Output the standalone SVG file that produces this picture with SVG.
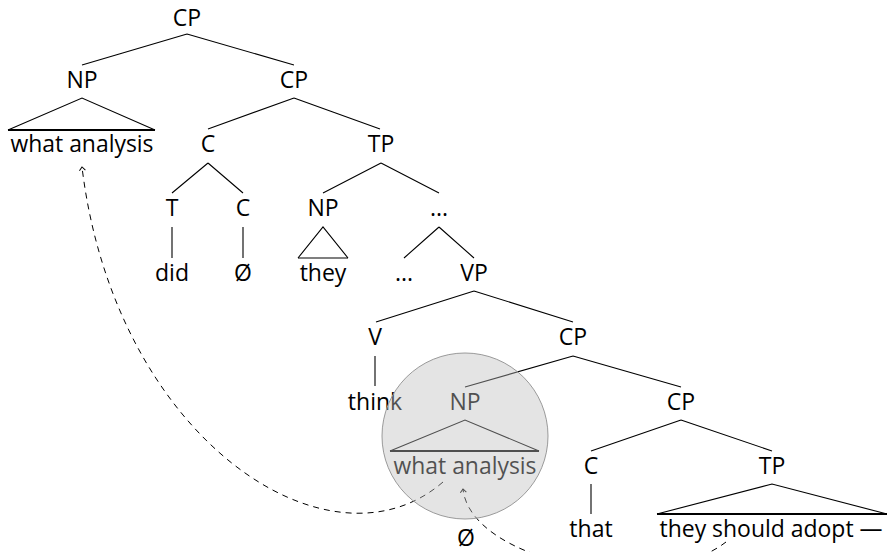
<svg xmlns="http://www.w3.org/2000/svg" width="889" height="552" viewBox="0 0 889 552">
<style>
text{font-family:"Open Sans","Liberation Sans",sans-serif;font-size:23px;fill:#000;text-anchor:middle}
.e{stroke:#000;stroke-width:1.1;fill:none}
.b{stroke:#000;stroke-width:1.8;fill:none}
.d{stroke:#000;stroke-width:1;fill:none;stroke-dasharray:6 5}
</style>
<defs>
<marker id="caret" markerWidth="10" markerHeight="10" refX="0" refY="0" viewBox="-5 -5 10 10" orient="auto" markerUnits="userSpaceOnUse">
<path d="M-3.5 -3 L0 0 L-3.5 3" fill="none" stroke="#000" stroke-width="1"/>
</marker>
</defs>
<rect width="889" height="552" fill="#fff"/>
<g id="connectors">
<path class="e" d="M187 34L82 65M187 34L294 65"/>
<path class="e" d="M8 130L82 98L155 130"/><path class="b" d="M8 130H155"/>
<path class="e" d="M294 98L208 129M294 98L380 129"/>
<path class="e" d="M208 163L172 193M208 163L243 193"/>
<path class="e" d="M381 163L323 193M381 163L439 193"/>
<path class="e" d="M172 227V258M243 227V258"/>
<path class="e" d="M298 258L323 227L348 258"/><path class="e" d="M298 258H348"/>
<path class="e" d="M439 227L404 258M439 227L474 258"/>
<path class="e" d="M474 291L376 322M474 291L573 322"/>
<path class="e" d="M375 356V386"/>
<path class="e" d="M573 356L465 387M573 356L681 387"/>
<path class="e" d="M390 451L465 420L539 451"/><path class="b" d="M390 451H539"/>
<path class="e" d="M681 420L591 451M681 420L772 451"/>
<path class="e" d="M591 484V514"/>
<path class="e" d="M657 514L772 484L887 514"/><path class="b" d="M657 514H887"/>
<path class="d" d="M443 482C330 580 115 440 82 167" marker-end="url(#caret)"/>
<path class="d" d="M726 542C650 600 470 560 463 489" marker-end="url(#caret)"/>
</g>
<g id="n_cp0"><text x="187" y="26">CP</text></g>
<g id="n_np1"><text x="82" y="88">NP</text></g>
<g id="n_wa1"><text x="82" y="152" textLength="143" lengthAdjust="spacingAndGlyphs">what analysis</text></g>
<g id="n_cp1"><text x="294" y="88">CP</text></g>
<g id="n_c1"><text x="208" y="152">C</text></g>
<g id="n_tp1"><text x="381" y="152">TP</text></g>
<g id="n_t"><text x="172" y="216">T</text></g>
<g id="n_c2"><text x="243" y="216">C</text></g>
<g id="n_np2"><text x="323" y="216">NP</text></g>
<g id="n_dots1"><text x="439" y="216">...</text></g>
<g id="n_did"><text x="172" y="281">did</text></g>
<g id="n_null1"><text x="243" y="281">Ø</text></g>
<g id="n_they"><text x="323" y="281">they</text></g>
<g id="n_dots2"><text x="404" y="281">...</text></g>
<g id="n_vp"><text x="474" y="281">VP</text></g>
<g id="n_v"><text x="375" y="345">V</text></g>
<g id="n_cp2"><text x="573" y="345">CP</text></g>
<g id="n_think"><text x="375" y="410">think</text></g>
<g id="n_np3"><text x="465" y="410">NP</text></g>
<g id="n_cp3"><text x="681" y="410">CP</text></g>
<g id="n_wa2"><text x="465" y="474" textLength="143" lengthAdjust="spacingAndGlyphs">what analysis</text></g>
<g id="n_c3"><text x="591" y="474">C</text></g>
<g id="n_tp3"><text x="772" y="474">TP</text></g>
<g id="n_that"><text x="591" y="537">that</text></g>
<g id="n_adopt"><text x="771" y="537" textLength="223" lengthAdjust="spacingAndGlyphs">they should adopt —</text></g>
<g id="n_null2"><text x="466" y="546">Ø</text></g>
<g id="highlight"><circle cx="465" cy="436" r="83" fill="rgb(190,190,190)" fill-opacity="0.42" stroke="#9a9a9a" stroke-width="1"/></g>
</svg>
